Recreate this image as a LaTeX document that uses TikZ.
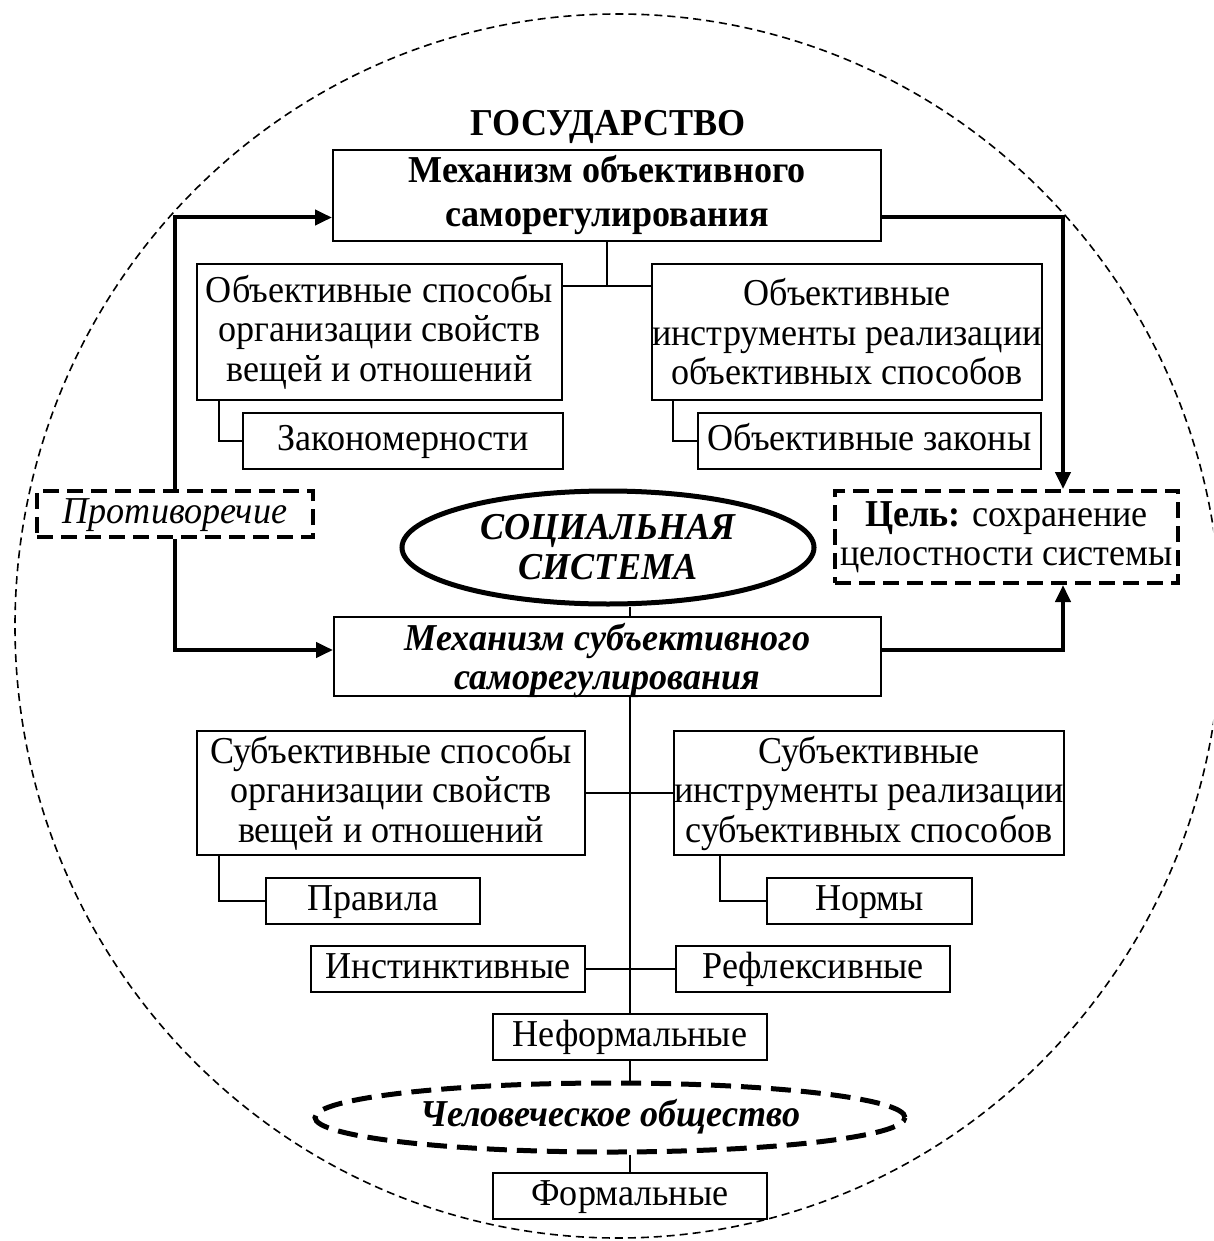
\documentclass[tikz,border=0pt]{standalone}
\usepackage{fontspec}
\setmainfont{Liberation Serif}[FakeStretch=0.95]
\usetikzlibrary{arrows.meta,shapes.geometric,calc}
\newcommand\txtsize{\fontsize{38}{39.5}\selectfont}
\tikzset{
  box/.style={draw, line width=2pt, inner sep=0pt, align=center, font=\txtsize},
  oneline/.style={text height=27pt, text depth=9pt},
  dashbox/.style={box, line width=4pt, dash pattern=on 16pt off 8pt},
  link/.style={line width=2pt},
  flow/.style={line width=4pt, -{Triangle[length=17pt,width=15pt]}},
}
\begin{document}
\begin{tikzpicture}[x=1pt,y=-1pt]
\useasboundingbox (0,0) rectangle (1213,1241);
\begin{scope}
\clip (0,0) rectangle (1213,1241);
% outer border of the state
\draw[line width=1.6pt, dash pattern=on 8pt off 5pt] (618,626) ellipse [x radius=603pt, y radius=612pt];
\end{scope}

\node[font=\txtsize\bfseries, inner sep=0pt, oneline] (gos) at (608,127) {ГОСУДАРСТВО};

% objective self-regulation
\node[box, minimum width=548pt, minimum height=91pt, font=\fontsize{38}{44}\selectfont\bfseries] (topm) at (607,195.5) {Механизм объективного\\саморегулирования};
\node[box, minimum width=365pt, minimum height=136pt] (objsp) at (379.5,332) {Объективные способы\\организации свойств\\вещей и отношений};
\node[box, minimum width=388pt, minimum height=136pt] (objin) at (847,332) {Объективные\\инструменты реализации\\объективных способов};
\node[box, oneline, minimum width=320pt, minimum height=56pt] (zak) at (403,441) {Закономерности};
\node[box, oneline, minimum width=343pt, minimum height=56pt] (objz) at (869.5,441) {Объективные законы};

% contradiction and goal
\node[dashbox, oneline, minimum width=276pt, minimum height=46pt, font=\txtsize\itshape] (prot) at (175,514) {Противоречие};
\node[dashbox, minimum width=343pt, minimum height=92pt] (goal) at (1006.5,537) {{\bfseries Цель:} сохранение\\целостности системы};

% social system
\node[ellipse, draw, line width=5pt, inner sep=0pt, minimum width=412pt, minimum height=113pt, align=center, font=\fontsize{38}{40}\selectfont\bfseries\itshape] (soc) at (608,547.5) {СОЦИАЛЬНАЯ\\СИСТЕМА};

% subjective self-regulation: frame, with its title set slightly low
\node[box, minimum width=547pt, minimum height=79pt] (subm) at (607.5,656.5) {};
\node[inner sep=0pt, align=center, font=\fontsize{38}{39.5}\selectfont\bfseries\itshape] (submtext) at ([yshift=-4pt]subm.center) {Механизм субъективного\\саморегулирования};
\node[box, minimum width=388pt, minimum height=124pt] (subsp) at (391,793) {Субъективные способы\\организации свойств\\вещей и отношений};
\node[box, minimum width=388pt, minimum height=124pt] (subin) at (869,793) {Субъективные\\инструменты реализации\\субъективных способов};
\node[box, oneline, minimum width=214pt, minimum height=46pt] (prav) at (373,901) {Правила};
\node[box, oneline, minimum width=205pt, minimum height=46pt] (norm) at (869.5,901) {Нормы};
\node[box, oneline, minimum width=274pt, minimum height=46pt] (inst) at (448,969) {Инстинктивные};
\node[box, oneline, minimum width=274pt, minimum height=46pt] (refl) at (813,969) {Рефлексивные};
\node[box, oneline, minimum width=274pt, minimum height=46pt] (neform) at (630,1037) {Неформальные};
\node[ellipse, draw, oneline, line width=5pt, dash pattern=on 20pt off 10pt, inner sep=0pt, minimum width=590pt, minimum height=69pt, font=\txtsize\bfseries\itshape] (chel) at (610,1117.5) {Человеческое общество};
\node[box, oneline, minimum width=274pt, minimum height=46pt] (form) at (630,1196) {Формальные};

% helper coordinates
\coordinate (j1) at (607,286);
\coordinate (spine) at (630,0);
\coordinate (gx) at (1063,0);

% thin links
\draw[link] (topm.south) -- (j1);
\draw[link] (objsp.east |- j1) -- (objin.west |- j1);
\draw[link] ([xshift=23pt]objsp.south west) |- (zak.west);
\draw[link] ([xshift=22pt]objin.south west) |- (objz.west);
\draw[link] (soc.south -| spine) -- (subm.north -| spine);
\draw[link] (subm.south -| spine) -- (neform.north);
\draw[link] (subsp.east) -- (subin.west);
\draw[link] ([xshift=23pt]subsp.south west) |- (prav.west);
\draw[link] ([xshift=47pt]subin.south west) |- (norm.west);
\draw[link] (inst.east) -- (refl.west);
\draw[link] (neform.south) -- (neform.south |- chel.north);
\draw[link] (neform.south |- chel.south) -- (form.north);

% thick flows
\draw[flow] (prot.north) |- ([yshift=-22pt]topm.west);
\draw[flow] (prot.south) |- ([yshift=6.5pt]subm.west);
\draw[flow] ([yshift=-22pt]topm.east) -| (goal.north -| gx);
\draw[flow] ([yshift=6.5pt]subm.east) -| (goal.south -| gx);
\end{tikzpicture}
\end{document}
